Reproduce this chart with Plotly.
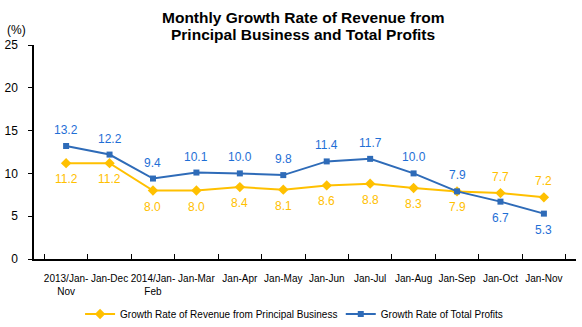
import plotly.graph_objects as go

categories = ["2013/Jan-<br>Nov", "Jan-Dec", "2014/Jan-<br>Feb", "Jan-Mar", "Jan-Apr", "Jan-May",
              "Jan-Jun", "Jan-Jul", "Jan-Aug", "Jan-Sep", "Jan-Oct", "Jan-Nov"]
revenue = [11.2, 11.2, 8.0, 8.0, 8.4, 8.1, 8.6, 8.8, 8.3, 7.9, 7.7, 7.2]
profits = [13.2, 12.2, 9.4, 10.1, 10.0, 9.8, 11.4, 11.7, 10.0, 7.9, 6.7, 5.3]
# label side: +1 above, -1 below
revenue_side = [-1] * 10 + [1, 1]
profits_side = [1] * 10 + [-1, -1]
y_ticks = [0, 5, 10, 15, 20, 25]
title_lines = ["Monthly Growth Rate of Revenue from", "Principal Business and Total Profits"]

YELLOW = "#FFC000"
BLUE = "#2E6BB8"
LBL_BLUE = "#1F6FD6"
FONT = "Liberation Sans, Arial"

fig = go.Figure()
fig.add_trace(go.Scatter(
    x=categories, y=revenue, mode="lines+markers",
    name="Growth Rate of Revenue from Principal Business",
    line=dict(color=YELLOW, width=2),
    marker=dict(symbol="diamond", size=8, color=YELLOW),
    legend="legend",
))
fig.add_trace(go.Scatter(
    x=categories, y=profits, mode="lines+markers",
    name="Growth Rate of Total Profits",
    line=dict(color=BLUE, width=2),
    marker=dict(symbol="square", size=6, color=BLUE),
    legend="legend2",
))

annotations = []
for c, v, s in zip(categories, revenue, revenue_side):
    annotations.append(dict(x=c, y=v, text=f"{v:.1f}", showarrow=False, yshift=16 * s,
                            font=dict(color=YELLOW, size=12, family=FONT)))
for c, v, s in zip(categories, profits, profits_side):
    annotations.append(dict(x=c, y=v, text=f"{v:.1f}", showarrow=False, yshift=16 * s,
                            font=dict(color=LBL_BLUE, size=12, family=FONT)))
annotations.append(dict(xref="paper", yref="paper", x=-0.033, y=1.0, yshift=15, text="(%)",
                        showarrow=False, xanchor="center", yanchor="middle",
                        font=dict(size=12, color="black", family=FONT)))
for i, line in enumerate(title_lines):
    annotations.append(dict(xref="paper", yref="paper", x=0.496, y=1.0, yshift=28 - 17.5 * i,
                            text=f"<b>{line}</b>", showarrow=False, xanchor="center", yanchor="middle",
                            font=dict(size=15.5, color="black", family=FONT)))

legend_common = dict(orientation="h", yanchor="middle", y=-0.257, font=dict(size=10, family=FONT),
                     bgcolor="rgba(0,0,0,0)", xanchor="left")

fig.update_layout(
    width=582, height=327,
    margin=dict(l=34, r=6, t=45, b=68, autoexpand=False),
    paper_bgcolor="white", plot_bgcolor="white",
    font=dict(family=FONT, color="black"),
    xaxis=dict(type="category", showline=True, linecolor="black", linewidth=1.5,
               ticks="inside", tickson="boundaries", ticklen=5, tickcolor="black",
               showgrid=False, zeroline=False, tickfont=dict(size=10), tickangle=0,
               ticklabelstandoff=9),
    yaxis=dict(range=[0, 25], tickvals=y_ticks, showline=True, linecolor="black", linewidth=1.5,
               ticks="outside", ticklen=4, tickcolor="black", showgrid=False, zeroline=False,
               tickfont=dict(size=12), ticklabelstandoff=8),
    showlegend=True,
    legend=dict(x=0.085, **legend_common),
    legend2=dict(x=0.566, **legend_common),
    annotations=annotations,
)

fig.write_html("out.html")
